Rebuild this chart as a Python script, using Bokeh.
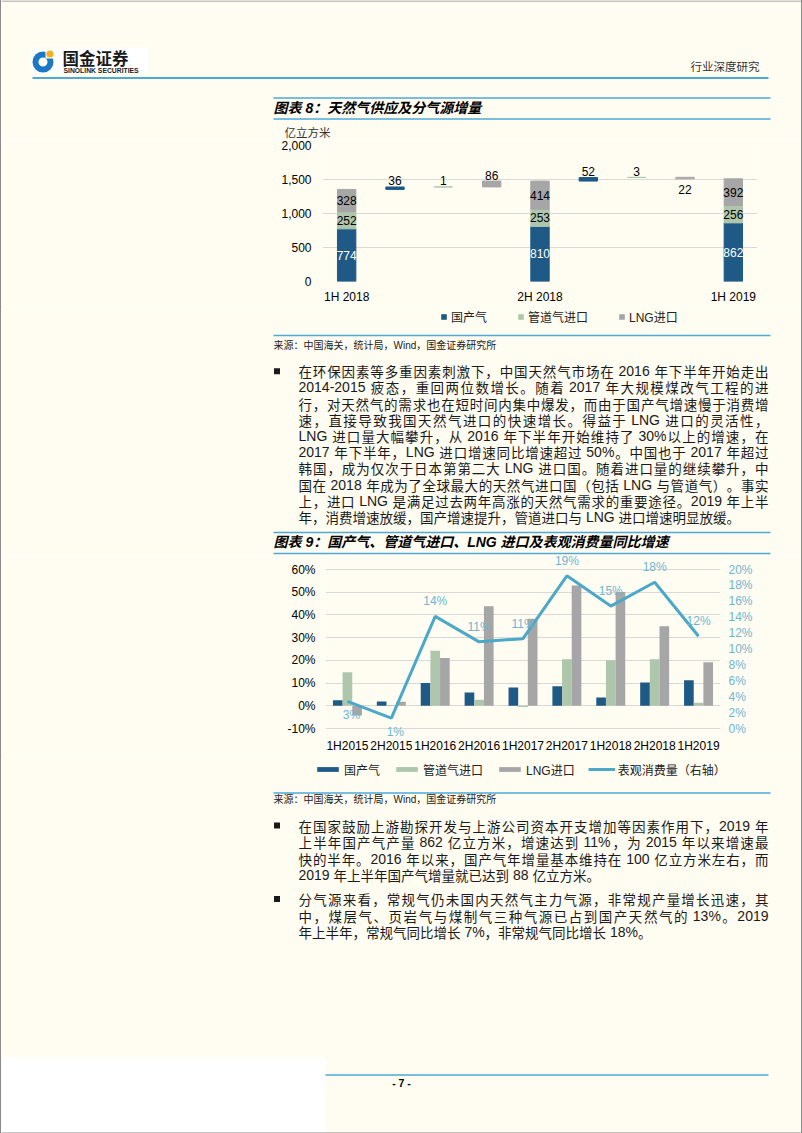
from bokeh.plotting import figure
from bokeh.models import (Range1d, LinearAxis, FixedTicker, NumeralTickFormatter,
                          Legend, LegendItem, ColumnDataSource, Spacer, LabelSet)
from bokeh.layouts import column, row
from bokeh.core.properties import value
from bokeh.embed import file_html
from bokeh.resources import INLINE

# ---------------- data ----------------
fig8_periods = ["1H 2018", "2H 2018", "1H 2019"]
fig8_series = ["国产气", "管道气进口", "LNG进口"]
fig8_domestic = [774, 810, 862]
fig8_pipeline = [252, 253, 256]
fig8_lng = [328, 414, 392]
fig8_yticks = [0, 500, 1000, 1500, 2000]
fig8_unit = "亿立方米"

fig9_periods = ["1H2015", "2H2015", "1H2016", "2H2016", "1H2017",
                "2H2017", "1H2018", "2H2018", "1H2019"]
fig9_series = ["国产气", "管道气进口", "LNG进口", "表观消费量（右轴）"]
fig9_domestic = [0.024, 0.019, 0.100, 0.059, 0.081, 0.086, 0.037, 0.103, 0.112]
fig9_pipeline = [0.148, 0.004, 0.242, 0.027, -0.005, 0.205, 0.201, 0.205, 0.013]
fig9_lng = [-0.043, 0.018, 0.210, 0.438, 0.383, 0.530, 0.501, 0.350, 0.192]
fig9_consumption = [0.034, 0.013, 0.141, 0.109, 0.113, 0.192, 0.154, 0.184, 0.116]
fig9_left_ticks = [-0.1, 0.0, 0.1, 0.2, 0.3, 0.4, 0.5, 0.6]
fig9_right_ticks = [0.0, 0.02, 0.04, 0.06, 0.08, 0.10, 0.12, 0.14, 0.16, 0.18, 0.20]

header_company = "国金证券"
header_company_en = "SINOLINK SECURITIES"
header_right = "行业深度研究"
fig8_title = "图表 8：天然气供应及分气源增量"
fig9_title = "图表 9：国产气、管道气进口、LNG 进口及表观消费量同比增速"
source_text = "来源：中国海关，统计局，Wind，国金证券研究所"
para1 = [
    "在环保因素等多重因素刺激下，中国天然气市场在 2016 年下半年开始走出",
    "2014-2015 疲态，重回两位数增长。随着 2017 年大规模煤改气工程的进",
    "行，对天然气的需求也在短时间内集中爆发，而由于国产气增速慢于消费增",
    "速，直接导致我国天然气进口的快速增长。得益于 LNG 进口的灵活性，",
    "LNG 进口量大幅攀升，从 2016 年下半年开始维持了 30%以上的增速，在",
    "2017 年下半年，LNG 进口增速同比增速超过 50%。中国也于 2017 年超过",
    "韩国，成为仅次于日本第第二大 LNG 进口国。随着进口量的继续攀升，中",
    "国在 2018 年成为了全球最大的天然气进口国（包括 LNG 与管道气）。事实",
    "上，进口 LNG 是满足过去两年高涨的天然气需求的重要途径。2019 年上半",
    "年，消费增速放缓，国产增速提升，管道进口与 LNG 进口增速明显放缓。",
]
para2 = [
    "在国家鼓励上游勘探开发与上游公司资本开支增加等因素作用下，2019 年",
    "上半年国产气产量 862 亿立方米，增速达到 11%，为 2015 年以来增速最",
    "快的半年。2016 年以来，国产气年增量基本维持在 100 亿立方米左右，而",
    "2019 年上半年国产气增量就已达到 88 亿立方米。",
]
para3 = [
    "分气源来看，常规气仍未国内天然气主力气源，非常规产量增长迅速，其",
    "中，煤层气、页岩气与煤制气三种气源已占到国产天然气的 13%。2019",
    "年上半年，常规气同比增长 7%，非常规气同比增长 18%。",
]
page_number = "- 7 -"

# ---------------- styles ----------------
CREAM = "#FFFCF1"
BORDER = "#8A8A8A"
BLUE_RULE = "#4FA9D4"
NAVY = "#1F5A86"
SAGE = "#AEC6AC"
GREY = "#A6A6A6"
LINE_C = "#4AA8C8"
LINE_LBL = "#6DB6D1"
GRID = "#D9D9D9"
TEXT_C = "#1A1A1A"
CJK = "Noto Sans CJK SC"
LAT = "Liberation Sans"
MIX = "Liberation Sans, Noto Sans CJK SC"
LAT_SIZE = 14.0
CJK_SIZE = 13.5
ARIAL = {c: 0.556 for c in "0123456789"}
ARIAL.update({"-": 0.333, "%": 0.889, "L": 0.556, "N": 0.722, "G": 0.778,
              " ": 0.278, ".": 0.278})


def deco(y0, y1):
    f = figure(width=800, height=y1 - y0, x_range=Range1d(1, 801), y_range=Range1d(y1, y0),
               x_axis_type=None, y_axis_type=None, toolbar_location=None,
               output_backend="svg", min_border=0, title=None)
    f.outline_line_color = None
    f.background_fill_color = CREAM
    f.border_fill_color = CREAM
    return f


def band(fig, h):
    return row(Spacer(width=1, height=h, styles={"background-color": BORDER}),
               fig,
               Spacer(width=1, height=h, styles={"background-color": BORDER}),
               spacing=0)


def hline(f, x0, x1, y, color=BLUE_RULE, w=1.6):
    f.segment(x0=[x0], y0=[y], x1=[x1], y1=[y], line_color=color, line_width=w)


def txt(f, x, y, s, size, font=MIX, color="#000000", style="normal", align="left"):
    f.text(x=[x], y=[y], text=[s], text_font=value(font), text_font_size=f"{size}px",
           text_color=color, text_font_style=style, text_align=align,
           text_baseline="middle")


def is_wide(ch):
    return ord(ch) >= 0x2E80


def layout_line(line, x0, width, justify):
    tokens = []
    i, pend = 0, 0.0
    while i < len(line):
        ch = line[i]
        if ch == " ":
            pend += ARIAL[" "] * LAT_SIZE
            i += 1
            continue
        if is_wide(ch):
            tokens.append((ch, True, CJK_SIZE, pend))
            i += 1
        else:
            j = i
            while j < len(line) and line[j] != " " and not is_wide(line[j]):
                j += 1
            word = line[i:j]
            tokens.append((word, False, sum(ARIAL.get(c, 0.556) for c in word) * LAT_SIZE, pend))
            i = j
        pend = 0.0
    natural = sum(t[2] + t[3] for t in tokens)
    gap = (width - natural) / (len(tokens) - 1) if (justify and len(tokens) > 1) else 0.0
    out, x = [], x0
    for k, t in enumerate(tokens):
        if k > 0:
            x += t[3] + gap
        out.append((t[0], t[1], x))
        x += t[2]
    return out


def paragraph(f, lines, y0, step, x0=298, x1=768):
    cx, cy, ct, lx, ly, lt = [], [], [], [], [], []
    for n, line in enumerate(lines):
        y = y0 + n * step
        for s, wide, x in layout_line(line, x0, x1 - x0, n < len(lines) - 1):
            if wide:
                cx.append(x); cy.append(y); ct.append(s)
            else:
                lx.append(x); ly.append(y); lt.append(s)
    f.text(x=cx, y=cy, text=ct, text_font=value(CJK), text_font_size=f"{CJK_SIZE}px",
           text_color=TEXT_C, text_align="left", text_baseline="middle")
    f.text(x=lx, y=ly, text=lt, text_font=value(LAT), text_font_size=f"{LAT_SIZE}px",
           text_color=TEXT_C, text_align="left", text_baseline="middle")
    f.scatter(x=[276.5], y=[y0], marker="square", size=6, fill_color=TEXT_C, line_color=None)


def legend_in(f, items, loc, gw, gh, spacing, standoff):
    leg = Legend(items=items, orientation="horizontal", location=loc,
                 glyph_width=gw, glyph_height=gh, label_standoff=standoff, spacing=spacing,
                 padding=3, margin=0, label_height=14, border_line_color=None,
                 background_fill_alpha=0, label_text_font=MIX,
                 label_text_font_size="12px", label_text_color="#222222")
    f.add_layout(leg)


# band limits (page pixels)
A0, A1 = 0, 139
B1 = 306
C1 = 555
D1 = 755
E1 = 1133

# ---------------- band A : header + title 8 ----------------
fA = deco(A0, A1)
hline(fA, 1, 801, 0.5, BORDER, 1)
fA.quad(left=[31], right=[147], top=[47], bottom=[73], fill_color="#FFFFFF", line_color=None)
fA.annulus(x=[42.5], y=[61.5], inner_radius=4.5, outer_radius=10.5,
           fill_color="#1B78C2", line_color=None)
fA.quad(left=[45], right=[54], top=[49], bottom=[58], fill_color="#FFFFFF", line_color=None)
fA.circle(x=[49.5], y=[53.5], radius=3.6, fill_color="#F3B21D", line_color=None)
txt(fA, 62, 57, header_company, 16.5, CJK, "#1A1A1A", "bold")
txt(fA, 63, 69.5, header_company_en, 6.8, LAT, "#1A1A1A", "bold")
txt(fA, 759, 65, header_right, 11.5, CJK, "#333333", align="right")
hline(fA, 32, 768, 77.5, BLUE_RULE, 2)
hline(fA, 273, 770, 97.5)
hline(fA, 273, 770, 118.5)
txt(fA, 273, 107.5, fig8_title, 14, MIX, "#000000", "bold italic")
txt(fA, 284, 131.5, fig8_unit, 11.5, CJK, "#333333")

# ---------------- band B : chart 8 ----------------
p8 = figure(width=800, height=B1 - A1, x_range=Range1d(-0.5, 8.5), y_range=Range1d(0, 2000),
            toolbar_location=None, output_backend="svg", title=None,
            min_border_left=321, min_border_right=44, min_border_top=6, min_border_bottom=23)
p8.background_fill_color = CREAM
p8.border_fill_color = CREAM
p8.outline_line_color = None

series_vals = [fig8_domestic, fig8_pipeline, fig8_lng]
colors8 = [NAVY, SAGE, GREY]
bars = [dict(x=[], bottom=[], top=[]) for _ in range(3)]
mid = dict(x=[], y=[], text=[], color=[])
up = dict(x=[], y=[], text=[])
down = dict(x=[], y=[], text=[])
for k in range(len(fig8_periods)):
    xk = 4 * k
    base = 0
    for s in range(3):
        v = series_vals[s][k]
        bars[s]["x"].append(xk); bars[s]["bottom"].append(base); bars[s]["top"].append(base + v)
        mid["x"].append(xk); mid["y"].append(base + v / 2); mid["text"].append(str(v))
        mid["color"].append("#FFFFFF" if s == 0 else "#000000")
        base += v
    if k < len(fig8_periods) - 1:
        run = base
        for s in range(3):
            d = series_vals[s][k + 1] - series_vals[s][k]
            xp = xk + 1 + s
            bars[s]["x"].append(xp)
            bars[s]["bottom"].append(min(run, run + d))
            bars[s]["top"].append(max(run, run + d))
            if d >= 0:
                up["x"].append(xp); up["y"].append(run + d); up["text"].append(str(d))
            else:
                down["x"].append(xp); down["y"].append(run + d); down["text"].append(str(-d))
            run += d

for s in range(3):
    p8.vbar(x="x", bottom="bottom", top="top", width=0.38,
            source=ColumnDataSource(bars[s]), fill_color=colors8[s],
            line_color=colors8[s], line_width=1)
p8.add_layout(LabelSet(x="x", y="y", text="text", source=ColumnDataSource(mid),
                       text_color="color", text_font=value(LAT), text_font_size="12px",
                       text_align="center", text_baseline="middle"))
p8.add_layout(LabelSet(x="x", y="y", text="text", source=ColumnDataSource(up),
                       text_color="#000000", text_font=value(LAT), text_font_size="12px",
                       text_align="center", text_baseline="middle", y_offset=6))
p8.add_layout(LabelSet(x="x", y="y", text="text", source=ColumnDataSource(down),
                       text_color="#000000", text_font=value(LAT), text_font_size="12px",
                       text_align="center", text_baseline="middle", y_offset=-11))

p8.yaxis.ticker = FixedTicker(ticks=fig8_yticks)
p8.yaxis.formatter = NumeralTickFormatter(format="0,0")
p8.ygrid.ticker = FixedTicker(ticks=fig8_yticks)
p8.ygrid.grid_line_color = GRID
p8.xgrid.grid_line_color = None
p8.xaxis.ticker = FixedTicker(ticks=[4 * k for k in range(len(fig8_periods))])
p8.xaxis.major_label_overrides = {4 * k: lab for k, lab in enumerate(fig8_periods)}
for ax in (p8.xaxis[0], p8.yaxis[0]):
    ax.axis_line_color = None
    ax.major_tick_line_color = None
    ax.minor_tick_line_color = None
    ax.major_tick_out = 0
    ax.major_tick_in = 0
    ax.major_label_text_font = LAT
    ax.major_label_text_font_size = "12px"
    ax.major_label_text_color = "#000000"
p8.yaxis.major_label_standoff = 11
p8.xaxis.major_label_standoff = 8

# ---------------- band C : legend 8 + source + paragraph 1 + title 9 ----------------
fC = deco(B1, C1)
leg8_r = [fC.vbar(x=[-500], top=[0], bottom=[0], width=1, fill_color=c, line_color=None)
          for c in colors8]
legend_in(fC, [LegendItem(label=fig8_series[s], renderers=[leg8_r[s]]) for s in range(3)],
          (439, C1 - 325), 7, 7, 30, 4)
hline(fC, 273, 770, 335)
txt(fC, 273, 345, source_text, 10, MIX, "#222222")
paragraph(fC, para1, 370.7, 16.2)
hline(fC, 273, 770, 532)
hline(fC, 273, 770, 553)
txt(fC, 273, 541, fig9_title, 14, MIX, "#000000", "bold italic")

# ---------------- band D : chart 9 ----------------
n9 = len(fig9_periods)
PX_PER_UNIT = 159 / 0.7           # left-axis scale (pixels per 100%)
PAD_TOP, PAD_BOTTOM = 14, 9       # room for data labels above / below the gridded area
y_lo = fig9_left_ticks[0] - PAD_BOTTOM / PX_PER_UNIT
y_hi = fig9_left_ticks[-1] + PAD_TOP / PX_PER_UNIT
k_lr = (fig9_right_ticks[-1] - fig9_right_ticks[0]) / (fig9_left_ticks[-1] - fig9_left_ticks[0])
r_lo = fig9_right_ticks[0] + (y_lo - fig9_left_ticks[0]) * k_lr
r_hi = fig9_right_ticks[0] + (y_hi - fig9_left_ticks[0]) * k_lr

p9 = figure(width=800, height=D1 - C1, x_range=Range1d(-0.5, n9 - 0.5),
            y_range=Range1d(y_lo, y_hi),
            toolbar_location=None, output_backend="svg", title=None,
            min_border_left=324, min_border_right=81, min_border_top=0, min_border_bottom=18)
p9.background_fill_color = CREAM
p9.border_fill_color = CREAM
p9.outline_line_color = None
p9.extra_y_ranges = {"right": Range1d(r_lo, r_hi)}

idx = list(range(n9))
bw = 0.22
colors9 = [NAVY, SAGE, GREY]
for vals, off, col in ((fig9_domestic, -bw, NAVY), (fig9_pipeline, 0, SAGE), (fig9_lng, bw, GREY)):
    p9.vbar(x=[i + off for i in idx], top=vals, bottom=0, width=bw,
            fill_color=col, line_color=None)
p9.line(x=idx, y=fig9_consumption, y_range_name="right", line_color=LINE_C, line_width=3)

lab_up = dict(x=[], y=[], text=[])
lab_dn = dict(x=[], y=[], text=[])
for i, v in enumerate(fig9_consumption):
    d = lab_dn if v < 0.05 else lab_up
    d["x"].append(i); d["y"].append(v); d["text"].append(f"{round(v * 100)}%")
p9.add_layout(LabelSet(x="x", y="y", text="text", source=ColumnDataSource(lab_up),
                       y_range_name="right", text_color=LINE_LBL, text_font=value(LAT),
                       text_font_size="12px", text_align="center", text_baseline="middle",
                       y_offset=15))
p9.add_layout(LabelSet(x="x", y="y", text="text", source=ColumnDataSource(lab_dn),
                       y_range_name="right", text_color=LINE_LBL, text_font=value(LAT),
                       text_font_size="12px", text_align="center", text_baseline="middle",
                       y_offset=-14, x_offset=4))

p9.yaxis.ticker = FixedTicker(ticks=fig9_left_ticks)
p9.yaxis.formatter = NumeralTickFormatter(format="0%")
p9.ygrid.ticker = FixedTicker(ticks=fig9_left_ticks)
p9.ygrid.grid_line_color = GRID
p9.xgrid.grid_line_color = None
p9.xaxis.ticker = FixedTicker(ticks=idx)
p9.xaxis.major_label_overrides = {i: lab for i, lab in enumerate(fig9_periods)}
raxis = LinearAxis(y_range_name="right", ticker=FixedTicker(ticks=fig9_right_ticks),
                   formatter=NumeralTickFormatter(format="0%"))
p9.add_layout(raxis, "right")
for ax in (p9.xaxis[0], p9.yaxis[0], raxis):
    ax.axis_line_color = None
    ax.major_tick_line_color = None
    ax.minor_tick_line_color = None
    ax.major_tick_out = 0
    ax.major_tick_in = 0
    ax.major_label_text_font = LAT
    ax.major_label_text_font_size = "12px"
    ax.major_label_text_color = "#000000"
p9.xaxis.major_label_standoff = 1
p9.yaxis[0].major_label_standoff = 10
raxis.major_label_standoff = 8
raxis.major_label_text_color = LINE_LBL

# ---------------- band E : legend 9 + source + paragraphs 2,3 + footer ----------------
fE = deco(D1, E1)
leg9_r = [fE.vbar(x=[-500], top=[0], bottom=[0], width=1, fill_color=c, line_color=None)
          for c in colors9]
leg9_r.append(fE.line(x=[-500, -499], y=[0, 0], line_color=LINE_C, line_width=3))
legend_in(fE, [LegendItem(label=fig9_series[s], renderers=[leg9_r[s]]) for s in range(4)],
          (313, E1 - 777.7), 27, 6, 13, 3)
hline(fE, 273, 770, 792.5)
txt(fE, 273, 799, source_text, 10, MIX, "#222222")
paragraph(fE, para2, 825, 16.6)
paragraph(fE, para3, 898.5, 16.6)
fE.quad(left=[1], right=[325], top=[1057], bottom=[1133], fill_color="#FFFFFF", line_color=None)
hline(fE, 325, 768, 1074.5, BLUE_RULE, 1.6)
txt(fE, 401, 1082, page_number, 10.5, LAT, "#000000", "bold", align="center")
hline(fE, 1, 801, 1132.5, BORDER, 1)

page = column(band(fA, A1 - A0), band(p8, B1 - A1), band(fC, C1 - B1),
              band(p9, D1 - C1), band(fE, E1 - D1), spacing=0)

open("out.html", "w").write(file_html(page, INLINE))
